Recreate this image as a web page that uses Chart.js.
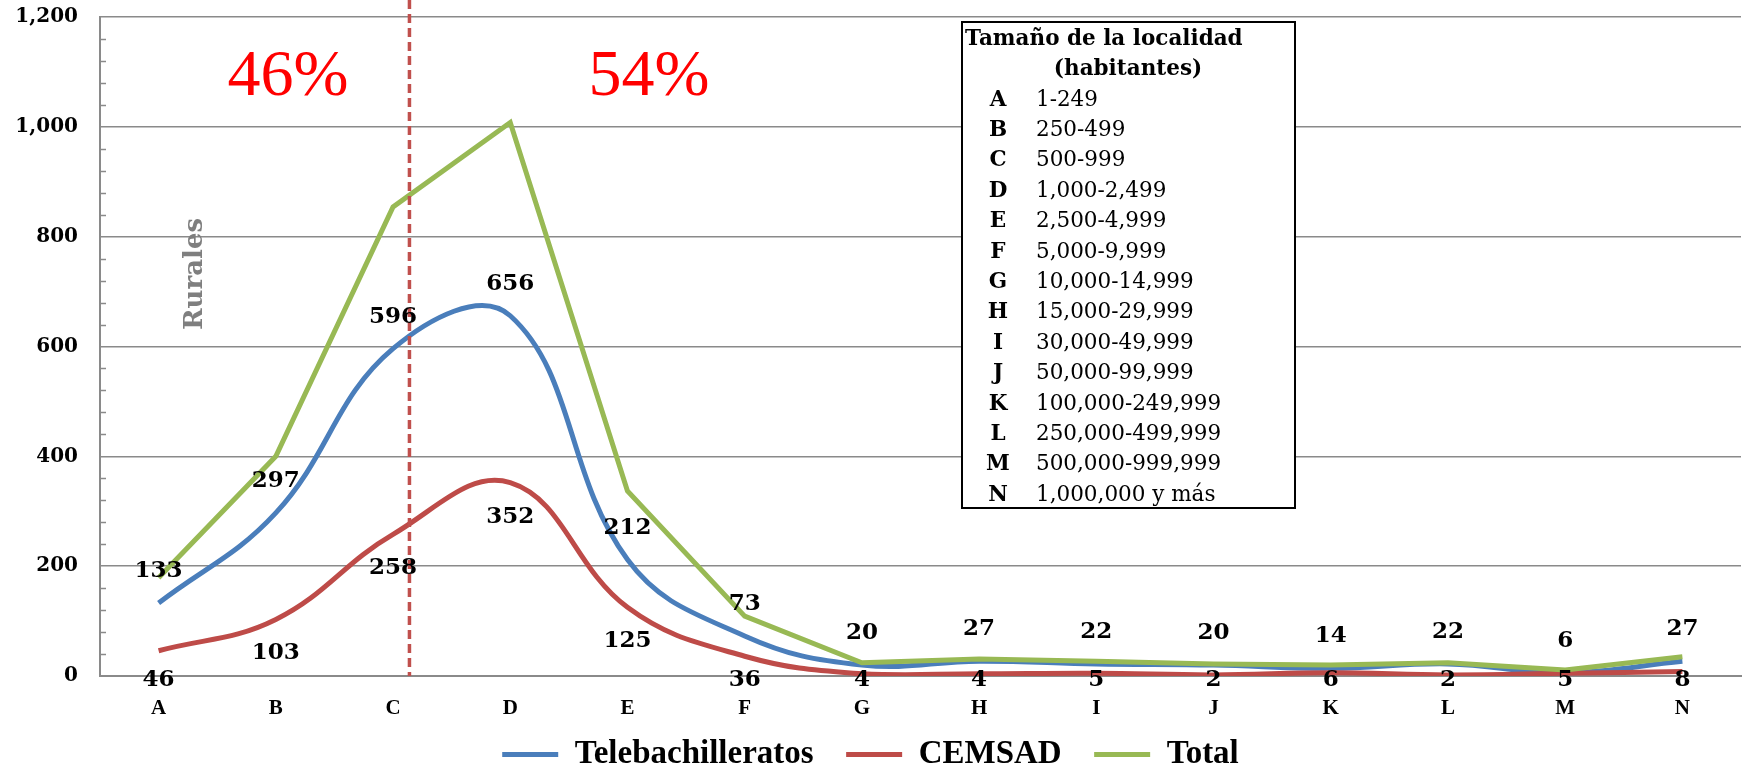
<!DOCTYPE html>
<html>
<head>
<meta charset="utf-8">
<script src="https://cdn.jsdelivr.net/npm/chart.js@4"></script>
<style>
  body { margin: 0; background: #fff; }
  canvas { display: block; }
</style>
</head>
<body>
<canvas id="chart" width="1747" height="768"></canvas>
<script>
const categories = ['A', 'B', 'C', 'D', 'E', 'F', 'G', 'H', 'I', 'J', 'K', 'L', 'M', 'N'];
const telebachilleratos = [133, 297, 596, 656, 212, 73, 20, 27, 22, 20, 14, 22, 6, 27];
const cemsad = [46, 103, 258, 352, 125, 36, 4, 4, 5, 2, 6, 2, 5, 8];
const total = [179, 400, 854, 1008, 337, 109, 24, 31, 27, 22, 20, 24, 11, 35];
const yTicks = [0, 200, 400, 600, 800, 1000, 1200];

const sizeLetters = ['A', 'B', 'C', 'D', 'E', 'F', 'G', 'H', 'I', 'J', 'K', 'L', 'M', 'N'];
const sizeRanges = ['1-249', '250-499', '500-999', '1,000-2,499', '2,500-4,999', '5,000-9,999',
  '10,000-14,999', '15,000-29,999', '30,000-49,999', '50,000-99,999', '100,000-249,999',
  '250,000-499,999', '500,000-999,999', '1,000,000 y más'];

const BLUE = '#4A7EBB';
const RED = '#BE4B48';
const GREEN = '#98B954';
const GRID = '#8a8a8a';

// etiquetas de datos: Telebachilleratos arriba, CEMSAD abajo
const dataLabels = {
  id: 'dataLabels',
  afterDatasetsDraw(chart) {
    const ctx = chart.ctx;
    const bottom = chart.chartArea.bottom;
    ctx.save();
    ctx.font = 'bold 23px "DejaVu Serif"';
    ctx.fillStyle = '#000';
    ctx.textAlign = 'center';
    ctx.textBaseline = 'middle';
    chart.getDatasetMeta(0).data.forEach((pt, i) => {
      ctx.fillText(telebachilleratos[i], pt.x, pt.y - 32);
    });
    chart.getDatasetMeta(1).data.forEach((pt, i) => {
      ctx.fillText(cemsad[i], pt.x, Math.min(pt.y + 34, bottom + 4));
    });
    ctx.restore();
  }
};

const extras = {
  id: 'extras',
  beforeDatasetsDraw(chart) {
    const ctx = chart.ctx;
    const y = chart.scales.y;
    const area = chart.chartArea;
    // marcas menores del eje Y
    ctx.save();
    ctx.strokeStyle = GRID;
    ctx.lineWidth = 1.5;
    for (let v = 40; v < 1200; v += 40) {
      if (v % 200 === 0) continue;
      const py = Math.round(y.getPixelForValue(v)) + 0.5;
      ctx.beginPath();
      ctx.moveTo(area.left, py);
      ctx.lineTo(area.left + 6, py);
      ctx.stroke();
    }
    ctx.restore();
  },
  afterDatasetsDraw(chart) {
    const ctx = chart.ctx;
    const x = chart.scales.x;
    const area = chart.chartArea;
    ctx.save();
    // linea divisoria rural / urbano
    const lx = x.getPixelForValue(2.14);
    ctx.strokeStyle = '#C0504D';
    ctx.lineWidth = 3.5;
    ctx.setLineDash([9, 5]);
    ctx.beginPath();
    ctx.moveTo(lx, 0);
    ctx.lineTo(lx, area.bottom);
    ctx.stroke();
    ctx.setLineDash([]);

    ctx.fillStyle = '#FF0000';
    ctx.font = '66px "Liberation Serif"';
    ctx.textAlign = 'center';
    ctx.textBaseline = 'alphabetic';
    ctx.fillText('46%', 288, 95);
    ctx.fillText('54%', 649, 95);

    ctx.save();
    ctx.translate(195, 274);
    ctx.rotate(-Math.PI / 2);
    ctx.fillStyle = '#7f7f7f';
    ctx.font = 'bold 26px "DejaVu Serif"';
    ctx.textAlign = 'center';
    ctx.textBaseline = 'middle';
    ctx.fillText('Rurales', 0, 0);
    ctx.restore();

    // cuadro de tamaños de localidad
    ctx.fillStyle = '#fff';
    ctx.fillRect(962, 22, 333, 486);
    ctx.strokeStyle = '#000';
    ctx.lineWidth = 2;
    ctx.strokeRect(962, 22, 333, 486);
    ctx.fillStyle = '#000';
    ctx.textBaseline = 'middle';
    ctx.font = 'bold 21.5px "DejaVu Serif"';
    ctx.textAlign = 'left';
    ctx.fillText('Tamaño de la localidad', 965, 39);
    ctx.textAlign = 'center';
    ctx.fillText('(habitantes)', 1128, 69);
    sizeLetters.forEach((l, i) => {
      const ry = 100 + i * 30.4;
      ctx.font = 'bold 21.5px "DejaVu Serif"';
      ctx.textAlign = 'center';
      ctx.fillText(l, 998, ry);
      ctx.font = '21.5px "DejaVu Serif"';
      ctx.textAlign = 'left';
      ctx.fillText(sizeRanges[i], 1036, ry);
    });
    ctx.restore();
  }
};

const chart = new Chart(document.getElementById('chart'), {
  type: 'line',
  data: {
    labels: categories,
    datasets: [
      { label: 'Telebachilleratos', data: telebachilleratos, borderColor: BLUE, backgroundColor: BLUE,
        borderWidth: 5, pointRadius: 0, tension: 0.4, order: 2 },
      { label: 'CEMSAD', data: cemsad, borderColor: RED, backgroundColor: RED,
        borderWidth: 5, pointRadius: 0, tension: 0.4, order: 1 },
      { label: 'Total', data: total, borderColor: GREEN, backgroundColor: GREEN,
        borderWidth: 5, pointRadius: 0, tension: 0, order: 0 },
    ],
  },
  options: {
    responsive: false,
    animation: false,
    layout: { padding: { top: 17, right: 6, left: 0, bottom: 0 } },
    plugins: {
      tooltip: { enabled: false },
      legend: {
        position: 'bottom',
        maxHeight: 46,
        labels: {
          color: '#000',
          font: { family: 'Liberation Serif', size: 33, weight: 'bold' },
          boxWidth: 56,
          boxHeight: 5,
          padding: 16,
          generateLabels(chart) {
            const n = chart.data.datasets.length;
            return chart.data.datasets.map((ds, i) => ({
              text: i < n - 1 ? ds.label + '  ' : ds.label,
              fillStyle: ds.borderColor,
              strokeStyle: ds.borderColor,
              lineWidth: 0,
              fontColor: '#000',
              hidden: false,
              datasetIndex: i,
            }));
          },
        },
      },
    },
    scales: {
      x: {
        offset: true,
        grid: { display: false, drawTicks: false },
        border: { display: true, color: GRID, width: 2 },
        ticks: { color: '#000', padding: 20, font: { family: 'Liberation Serif', size: 21, weight: 'bold' } },
        afterFit(scale) { scale.height = 46; },
      },
      y: {
        min: 0,
        max: 1200,
        afterBuildTicks(scale) { scale.ticks = yTicks.map(v => ({ value: v })); },
        grid: { color: GRID, lineWidth: 1.5, drawTicks: true, tickLength: 22, tickColor: 'rgba(0,0,0,0)' },
        border: { display: true, color: GRID, width: 2 },
        ticks: {
          color: '#000',
          padding: 0,
          font: { family: 'DejaVu Serif', size: 20, weight: 'bold' },
          callback: v => v.toLocaleString('en-US'),
        },
        afterFit(scale) { scale.width = 100; },
      },
    },
  },
  plugins: [extras, dataLabels],
});
</script>
</body>
</html>
